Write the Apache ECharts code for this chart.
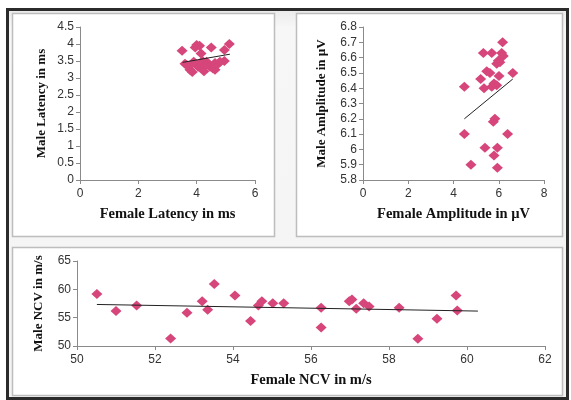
<!DOCTYPE html>
<html><head><meta charset="utf-8">
<script src="https://cdn.jsdelivr.net/npm/echarts@6/dist/echarts.min.js"></script>
<style>html,body{margin:0;padding:0;background:#fff}#c{width:571px;height:400px}</style>
</head><body><div id="c"></div><script>
// Latency (ms)
const latFemale=[3.5,4.0,4.1,3.95,4.5,5.12,4.95,4.15,4.95,3.6,3.66,3.77,3.85,3.9,4.05,4.2,4.25,4.34,4.46,4.56,4.63,4.63,4.75,4.8,4.2,4.0,3.75,4.3];
const latMale=[3.8,3.97,3.95,3.9,3.9,4.0,3.82,3.72,3.5,3.42,3.38,3.24,3.18,3.48,3.33,3.28,3.2,3.48,3.33,3.28,3.24,3.44,3.43,3.48,3.5,3.4,3.35,3.38];
const latTrendX=[3.52,5.14], latTrendY=[3.46,3.70];
// Amplitude (µV)
const ampFemale=[6.17,5.32,5.69,6.13,6.2,5.98,5.91,6.05,6.62,5.47,5.61,5.2,6.01,4.48,5.35,5.69,5.79,5.91,5.83,5.76,4.48,6.39,5.39,5.94,5.79,4.77,5.94];
const ampMale=[6.70,6.63,6.63,6.63,6.61,6.58,6.56,6.57,6.50,6.51,6.50,6.46,6.48,6.41,6.40,6.41,6.43,6.42,6.20,6.18,6.10,6.10,6.01,6.01,5.96,5.90,5.88];
const ampTrendX=[4.48,6.62], ampTrendY=[6.20,6.46];
// NCV (m/s)
const ncvFemale=[50.51,51.0,51.53,52.4,52.82,53.21,53.35,53.52,54.05,54.45,54.65,54.74,55.02,55.3,56.26,56.26,56.98,57.05,57.16,57.35,57.49,58.26,58.74,59.23,59.72,59.75];
const ncvMale=[59.19,56.16,57.15,51.34,55.87,57.91,56.4,60.93,58.9,54.42,57.15,57.9,57.56,57.56,56.74,53.26,57.9,58.2,56.57,57.56,56.98,56.74,51.28,54.83,58.9,56.28];
const ncvTrendX=[50.51,60.28], ncvTrendY=[57.33,56.16];

const pts=(xs,ys)=>xs.map((x,i)=>[x,ys[i]]);
const mk='#d6467a';
const lblFont={fontFamily:'Liberation Sans',fontSize:12,color:'#333'};
const xNameFont={fontFamily:'Liberation Serif',fontWeight:'bold',fontSize:14.5,color:'#111'};
const yNameFont={fontFamily:'Liberation Serif',fontWeight:'bold',fontSize:13,color:'#111'};
const axLine={lineStyle:{color:'#8a8a8a',width:1}};
const fmt=v=>{let s=(Math.round(v*10)/10).toFixed(1);return s.endsWith('.0')?s.slice(0,-2):s;};
function xAx(i,min,max,iv,name){return {gridIndex:i,type:'value',min,max,interval:iv,name,nameLocation:'middle',nameGap:27,nameTextStyle:xNameFont,axisLine:{show:true,...axLine},axisTick:{show:true,length:4,lineStyle:{color:'#8a8a8a'}},splitLine:{show:false},axisLabel:{...lblFont,margin:8,formatter:fmt}};}
function yAx(i,min,max,iv,name,gap){return {gridIndex:i,type:'value',min,max,interval:iv,name,nameLocation:'middle',nameGap:gap,nameTextStyle:yNameFont,axisLine:{show:true,...axLine},axisTick:{show:true,length:4,lineStyle:{color:'#8a8a8a'}},splitLine:{show:false},axisLabel:{...lblFont,margin:6,formatter:fmt}};}
function sc(i,d){return {type:'scatter',xAxisIndex:i,yAxisIndex:i,data:d,symbol:'diamond',symbolSize:[11,10],itemStyle:{color:mk,opacity:1},z:3};}
function tl(i,d){return {type:'line',xAxisIndex:i,yAxisIndex:i,data:d,symbol:'none',lineStyle:{color:'#222',width:1},z:4};}

const chart=echarts.init(document.getElementById('c'),null,{renderer:'canvas'});
chart.setOption({
  animation:false,
  backgroundColor:'#fff',
  graphic:{elements:[
    {type:'rect',z:-10,shape:{x:7.5,y:9.5,width:560,height:389},style:{fill:{type:'linear',x:0,y:0,x2:0,y2:1,colorStops:[{offset:0,color:'#e9e9e9'},{offset:0.05,color:'#f7f7f7'},{offset:1,color:'#f3f3f3'}]},stroke:'#2b2b2b',lineWidth:3}},
    {type:'rect',z:-9,shape:{x:12.5,y:13.5,width:262,height:223},style:{fill:'#fff',stroke:'#bdbdbd',lineWidth:1.5}},
    {type:'rect',z:-9,shape:{x:296.5,y:13.5,width:266,height:223},style:{fill:'#fff',stroke:'#bdbdbd',lineWidth:1.5}},
    {type:'rect',z:-9,shape:{x:12.5,y:247.5,width:550,height:148},style:{fill:'#fff',stroke:'#bdbdbd',lineWidth:1.5}}
  ]},
  grid:[
    {left:80,top:27,width:175,height:153},
    {left:363,top:27,width:181,height:153},
    {left:77,top:261,width:468,height:85}
  ],
  xAxis:[xAx(0,0,6,2,'Female Latency in ms'),xAx(1,0,8,2,'Female Amplitude in µV'),xAx(2,50,62,2,'Female NCV in m/s')],
  yAxis:[yAx(0,0,4.5,0.5,'Male Latency in ms',32),yAx(1,5.8,6.8,0.1,'Male Amlplitude in µV',35),yAx(2,50,65,5,'Male NCV in m/s',32)],
  series:[
    sc(0,pts(latFemale,latMale)),tl(0,pts(latTrendX,latTrendY)),
    sc(1,pts(ampFemale,ampMale)),tl(1,pts(ampTrendX,ampTrendY)),
    sc(2,pts(ncvFemale,ncvMale)),tl(2,pts(ncvTrendX,ncvTrendY))
  ]
});
</script></body></html>
